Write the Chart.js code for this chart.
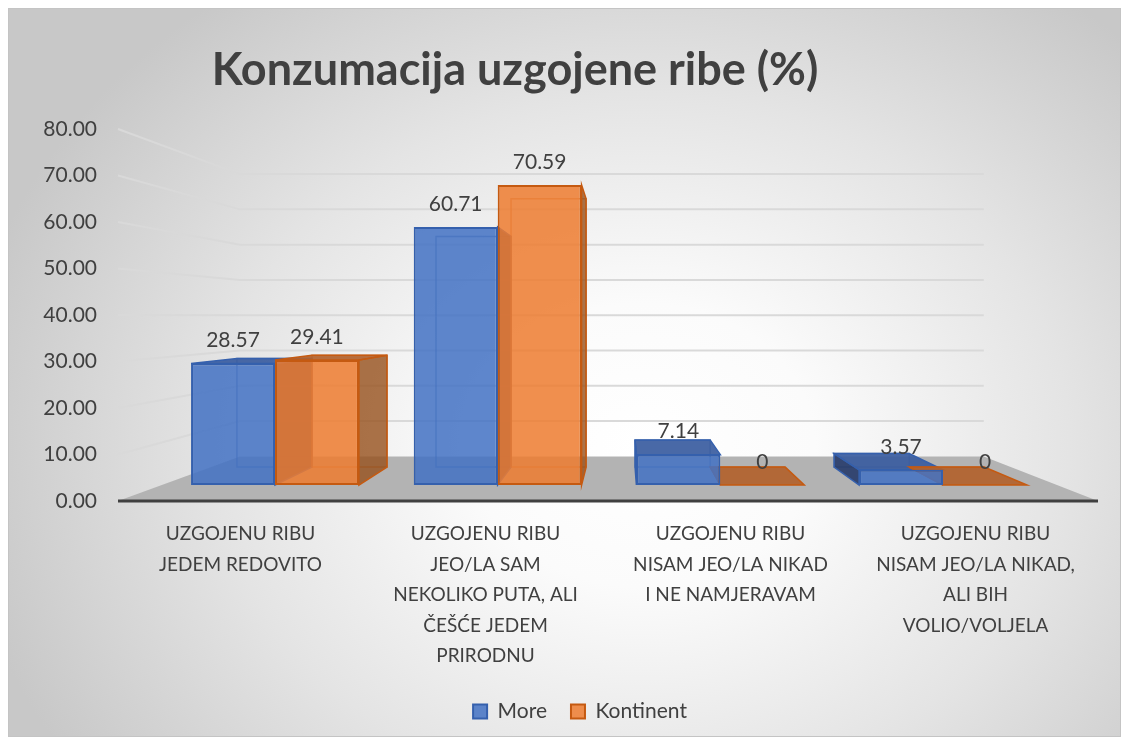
<!DOCTYPE html>
<html>
<head>
<meta charset="utf-8">
<script src="https://cdn.jsdelivr.net/npm/chart.js@4.4.0/dist/chart.umd.min.js"></script>
<style>
  html, body { margin: 0; padding: 0; background: #fff; }
  #wrap { position: relative; width: 1130px; height: 744px; }
  #frame {
    position: absolute; left: 8px; top: 8px; width: 1113px; height: 729px;
    box-sizing: border-box; border: 1px solid #c4c4c4;
    background: radial-gradient(ellipse 62% 78% at 57% 60%, #ffffff 0%, #fbfbfb 25%, #e4e4e4 62%, #c8c8c8 100%);
  }
  #chart { position: absolute; left: 0; top: 0; }
</style>
</head>
<body>
<div id="wrap">
  <div id="frame"></div>
  <canvas id="chart" width="1130" height="744"></canvas>
</div>
<script>
// data
var categories = [
    ['UZGOJENU RIBU', 'JEDEM REDOVITO'],
    ['UZGOJENU RIBU', 'JEO/LA SAM', 'NEKOLIKO PUTA, ALI', 'ČEŠĆE JEDEM', 'PRIRODNU'],
    ['UZGOJENU RIBU', 'NISAM JEO/LA NIKAD', 'I NE NAMJERAVAM'],
    ['UZGOJENU RIBU', 'NISAM JEO/LA NIKAD,', 'ALI BIH', 'VOLIO/VOLJELA']
];
var more = [28.57, 60.71, 7.14, 3.57];
var kontinent = [29.41, 70.59, 0, 0];
var yTicks = [0, 10, 20, 30, 40, 50, 60, 70, 80];
var titleText = 'Konzumacija uzgojene ribe (%)';

// 3D look (perspective toward a vanishing point)
var VP = { x: 624, y: 316 };
var BAR_DEPTH = 0.106;
var FLOOR_DEPTH = 0.241;
var faces = [
    { side: 'rgba(38,58,105,0.9)', top: 'rgba(58,92,160,0.92)', edge: 'rgba(47,85,151,0.55)' },
    { side: 'rgba(150,80,28,0.8)', top: 'rgba(178,98,45,0.92)', edge: 'rgba(197,90,17,0.55)' }
];
var textColor = '#404040';

function toBack(x, y, k) {
    return [x + k * (VP.x - x), y + k * (VP.y - y)];
}

function poly(ctx, pts) {
    ctx.beginPath();
    ctx.moveTo(pts[0][0], pts[0][1]);
    for (var i = 1; i < pts.length; i++) ctx.lineTo(pts[i][0], pts[i][1]);
    ctx.closePath();
}

function points(values) {
    return values.map(function(v, i) { return { x: i, y: v }; });
}

var scene3d = {
    id: 'scene3d',
    beforeDraw: function(chart) {
        // excel puts title a bit left and legend a bit right of centre
        chart.titleBlock.left = 0;
        chart.titleBlock.right = 1030;
        chart.legend.left = 30;
        chart.legend.right = 1130;
    },
    beforeDatasetsDraw: function(chart) {
        var ctx = chart.ctx, area = chart.chartArea, yt = chart.scales.yt;
        var xl = area.left, xr = area.right, y0 = yt.getPixelForValue(0);
        ctx.save();
        // floor
        var bl = toBack(xl, y0, FLOOR_DEPTH), br = toBack(xr, y0, FLOOR_DEPTH);
        ctx.fillStyle = '#b3b3b3';
        poly(ctx, [[xl, y0], bl, br, [xr, y0]]);
        ctx.fill();
        // side + back wall gridlines
        ctx.strokeStyle = '#d9d9d9';
        ctx.lineWidth = 2;
        yTicks.forEach(function(v) {
            if (v === 0) return;
            var y = yt.getPixelForValue(v);
            var a = toBack(xl, y, FLOOR_DEPTH), b = toBack(xr, y, FLOOR_DEPTH);
            ctx.beginPath();
            ctx.moveTo(xl, y);
            ctx.lineTo(a[0], a[1]);
            ctx.lineTo(b[0], a[1]);
            ctx.stroke();
        });
        // depth faces of the bars
        chart.data.datasets.forEach(function(ds, di) {
            var meta = chart.getDatasetMeta(di);
            var f = faces[di];
            meta.data.forEach(function(bar) {
                var x0 = bar.x - bar.width / 2, x1 = bar.x + bar.width / 2;
                var yT = bar.y, yB = bar.base;
                var tl = toBack(x0, yT, BAR_DEPTH), tr = toBack(x1, yT, BAR_DEPTH);
                var bl2 = toBack(x0, yB, BAR_DEPTH), br2 = toBack(x1, yB, BAR_DEPTH);
                // back edges seen through the glassy front
                ctx.strokeStyle = f.edge;
                ctx.lineWidth = 1.5;
                poly(ctx, [tl, tr, br2, bl2]);
                ctx.stroke();
                ctx.strokeStyle = ds.borderColor;
                ctx.lineWidth = 1.5;
                if (x1 < VP.x) {
                    ctx.fillStyle = f.side;
                    poly(ctx, [[x1, yT], tr, br2, [x1, yB]]);
                    ctx.fill(); ctx.stroke();
                }
                if (x0 > VP.x) {
                    ctx.fillStyle = f.side;
                    poly(ctx, [[x0, yT], tl, bl2, [x0, yB]]);
                    ctx.fill(); ctx.stroke();
                }
                if (yT > VP.y) {
                    ctx.fillStyle = f.top;
                    poly(ctx, [[x0, yT], [x1, yT], tr, tl]);
                    ctx.fill(); ctx.stroke();
                }
            });
        });
        ctx.restore();
    },
    afterDatasetsDraw: function(chart) {
        var ctx = chart.ctx, area = chart.chartArea, yt = chart.scales.yt;
        var y0 = yt.getPixelForValue(0);
        ctx.save();
        // front edge of the floor
        ctx.strokeStyle = '#404040';
        ctx.lineWidth = 3;
        ctx.beginPath();
        ctx.moveTo(area.left, y0);
        ctx.lineTo(area.right, y0);
        ctx.stroke();
        // value labels
        ctx.fillStyle = textColor;
        ctx.font = '21px Lato';
        ctx.textAlign = 'center';
        ctx.textBaseline = 'middle';
        chart.data.datasets.forEach(function(ds, di) {
            chart.getDatasetMeta(di).data.forEach(function(bar, i) {
                ctx.fillText(String(ds.data[i].y), bar.x, bar.y - 23);
            });
        });
        ctx.restore();
    }
};

var ctx = document.getElementById('chart').getContext('2d');
var chart = new Chart(ctx, {
    type: 'bar',
    data: {
        datasets: [{
            label: 'More',
            data: points(more),
            backgroundColor: 'rgba(68,114,196,0.86)',
            borderColor: '#3560ad',
            borderWidth: 2,
            borderSkipped: false,
            base: 0
        }, {
            label: 'Kontinent',
            data: points(kontinent),
            backgroundColor: 'rgba(237,125,49,0.86)',
            borderColor: '#c55a11',
            borderWidth: 2,
            borderSkipped: false,
            base: 0
        }]
    },
    options: {
        responsive: false,
        animation: false,
        devicePixelRatio: 1,
        categoryPercentage: 0.754,
        barPercentage: 1.0,
        layout: { padding: { left: 0, right: 32, top: 0, bottom: 12 } },
        plugins: {
            title: {
                display: true,
                text: titleText,
                color: textColor,
                font: { family: 'Lato', size: 45, weight: 'bold', lineHeight: 1.2 },
                padding: { top: 43, bottom: 32 }
            },
            legend: {
                position: 'bottom',
                labels: {
                    color: textColor,
                    font: { family: 'Lato', size: 21 },
                    boxWidth: 14,
                    boxHeight: 14,
                    padding: 24
                }
            },
            tooltip: { enabled: false }
        },
        scales: {
            // bars stand a little behind the front edge, so they use their own scales
            x: {
                type: 'linear', display: false, offset: false, min: -0.705, max: 3.696,
                afterBuildTicks: function(s) {
                    s.ticks = categories.map(function(c, i) { return { value: i }; });
                }
            },
            y: { display: false, min: -3.754, max: 83.75 },
            // category labels sit along the front edge of the floor
            xl: {
                type: 'category',
                axis: 'x',
                position: 'bottom',
                labels: categories,
                offset: true,
                grid: { display: false, drawTicks: false },
                border: { display: false },
                ticks: {
                    color: textColor,
                    font: { family: 'Lato', size: 19, lineHeight: 1.6 },
                    padding: 18,
                    autoSkip: false,
                    maxRotation: 0
                },
                afterFit: function(s) { s.height = 176; }
            },
            // tick labels on the front plane
            yt: {
                type: 'linear',
                axis: 'y',
                position: 'left',
                min: 0,
                max: 80,
                grid: { display: false, drawTicks: false },
                border: { display: false },
                afterBuildTicks: function(s) {
                    s.ticks = yTicks.map(function(v) { return { value: v }; });
                },
                ticks: {
                    color: textColor,
                    font: { family: 'Lato', size: 21 },
                    padding: 21,
                    callback: function(v) { return Number(v).toFixed(2); }
                },
                afterFit: function(s) { s.width = 118; }
            }
        }
    },
    plugins: [scene3d]
});
</script>
</body>
</html>
